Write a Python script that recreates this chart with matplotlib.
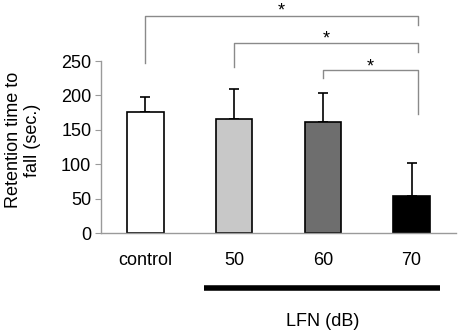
import matplotlib
matplotlib.use("Agg")
import matplotlib.pyplot as plt

# -----------------------------
# DATA
# -----------------------------
groups = ['control', '50', '60', '70']
means = [176, 166, 161, 54]
errors = [22, 43, 43, 48]
colors = ['white', '#c8c8c8', '#6e6e6e', 'black']
yticks = [0, 50, 100, 150, 200, 250]

# significance brackets: (left group, left leg bottom, top, right leg bottom, star y)
brackets = [(0, 247, 315, 302, 322),
            (1, 241, 276, 263, 282),
            (2, 225, 237, 173, 241)]

plt.rcParams['font.family'] = ['Liberation Sans', 'DejaVu Sans']

fig = plt.figure(figsize=(4.59, 3.32), dpi=100)
ax = fig.add_axes([101 / 459, 99 / 332, 355 / 459, 172 / 332])

x = list(range(len(groups)))
ax.bar(x, means, width=0.41, color=colors, edgecolor='black', linewidth=1.2, zorder=2)
ax.errorbar(x, means, yerr=[[0] * len(errors), errors], fmt='none', ecolor='black',
            elinewidth=1.2, capsize=3.6, capthick=1.2, zorder=1)

ax.set_xlim(-0.5, 3.5)
ax.set_ylim(0, 250)
ax.set_yticks(yticks)
ax.set_xticks(x)
ax.set_xticklabels(groups)

for s in ['top', 'right']:
    ax.spines[s].set_visible(False)
for s in ['left', 'bottom']:
    ax.spines[s].set_color('#9a9a9a')
    ax.spines[s].set_linewidth(1.0)
ax.tick_params(axis='y', colors='#9a9a9a', labelcolor='black', labelsize=13, length=4, pad=3)
ax.tick_params(axis='x', length=0, labelsize=13, pad=14)

# y label placed in figure coords so it is not pushed off the edge
fig.text(23 / 459, 1 - 140 / 332, 'Retention time to\nfall (sec.)', rotation=90,
         ha='center', va='center', fontsize=13, linespacing=1.1, multialignment='center')

# brackets
xr = 3.07
for g, yl, yt, yr, ys in brackets:
    ax.plot([g, g, xr, xr], [yl, yt, yt, yr], color='#8a8a8a', lw=1.0, clip_on=False)
    ax.text((g + xr) / 2, ys, '*', ha='center', va='center', fontsize=13, clip_on=False)

# LFN bar under the axis
ax.plot([0.665, 3.316], [-80, -80], color='black', lw=4, clip_on=False, solid_capstyle='butt')
ax.text(2.0, -129, 'LFN (dB)', ha='center', va='center', fontsize=13)

fig.savefig('out.png', dpi=100)
